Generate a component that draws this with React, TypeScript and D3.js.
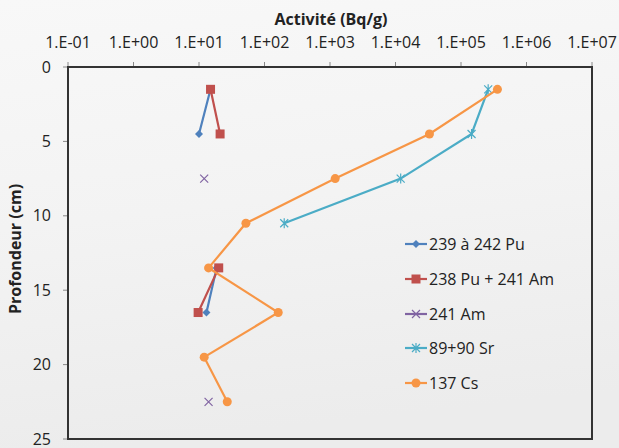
import React from "react";
import * as d3 from "d3";

const depths = [1.5, 4.5, 7.5, 10.5, 13.5, 16.5, 19.5, 22.5];
const pu239: (number | null)[] = [15, 10, null, null, 18.6, 13, null, null];
const pu238am: (number | null)[] = [15, 21, null, null, 20, 9.7, null, null];
const am241: (number | null)[] = [null, null, 12, null, null, null, null, 14];
const sr90: (number | null)[] = [2.6e5, 1.45e5, 1.2e4, 200, null, null, null, null];
const cs137: (number | null)[] = [3.6e5, 3.3e4, 1.2e3, 52, 14, 162, 12, 27];

const xTickLabels = ["1.E-01", "1.E+00", "1.E+01", "1.E+02", "1.E+03", "1.E+04", "1.E+05", "1.E+06", "1.E+07"];
const xTickValues = [1e-1, 1, 1e1, 1e2, 1e3, 1e4, 1e5, 1e6, 1e7];
const yTicks = [0, 5, 10, 15, 20, 25];

type Series = { name: string; values: (number | null)[]; color: string; marker: string };
const seriesList: Series[] = [
  { name: "239 à 242 Pu", values: pu239, color: "#4F81BD", marker: "diamond" },
  { name: "238 Pu + 241 Am", values: pu238am, color: "#C0504D", marker: "square" },
  { name: "241 Am", values: am241, color: "#8064A2", marker: "x" },
  { name: "89+90 Sr", values: sr90, color: "#4BACC6", marker: "star" },
  { name: "137 Cs", values: cs137, color: "#F79646", marker: "circle" },
];

const W = 619, H = 448;
const left = 68, right = 592, top = 67, bottom = 439;
const font = "'Open Sans', 'Liberation Sans', sans-serif";

function Marker({ type, x, y, color }: { type: string; x: number; y: number; color: string }) {
  if (type === "diamond") {
    const s = 4;
    return <path d={`M${x},${y - s}L${x + s},${y}L${x},${y + s}L${x - s},${y}Z`} fill={color} />;
  }
  if (type === "square") {
    const s = 4.5;
    return <rect x={x - s} y={y - s} width={2 * s} height={2 * s} fill={color} />;
  }
  if (type === "circle") {
    return <circle cx={x} cy={y} r={4.5} fill={color} />;
  }
  if (type === "x") {
    const s = 4;
    return <path d={`M${x - s},${y - s}L${x + s},${y + s}M${x - s},${y + s}L${x + s},${y - s}`} stroke={color} strokeWidth={1.2} fill="none" />;
  }
  const s = 4;
  return <path d={`M${x - s},${y - s}L${x + s},${y + s}M${x - s},${y + s}L${x + s},${y - s}M${x},${y - s - 1}L${x},${y + s + 1}`} stroke={color} strokeWidth={1.2} fill="none" />;
}

export default function App() {
  const x = d3.scaleLog().domain([1e-1, 1e7]).range([left, right]);
  const y = d3.scaleLinear().domain([0, 25]).range([top, bottom]);

  const line = d3
    .line<[number, number | null]>()
    .defined((d) => d[1] != null)
    .x((d) => x(d[1] as number))
    .y((d) => y(d[0]));

  const legendY = [244, 279, 314, 348, 383];

  return (
    <svg width={W} height={H} style={{ position: "absolute", left: 0, top: 0 }}>
      <defs>
        <linearGradient id="bg" x1="0" y1="0" x2="0.15" y2="1">
          <stop offset="0" stopColor="#f8f8f8" />
          <stop offset="0.5" stopColor="#f3f3f3" />
          <stop offset="1" stopColor="#ececec" />
        </linearGradient>
      </defs>
      <rect x={0} y={0} width={W} height={H} fill="url(#bg)" />
      <text x={331} y={25} textAnchor="middle" fontFamily={font} fontWeight="bold" fontSize={16} fill="#222">
        Activité (Bq/g)
      </text>
      {xTickValues.map((v, i) => (
        <g key={i}>
          <line x1={x(v)} x2={x(v)} y1={top - 5} y2={top} stroke="#888" strokeWidth={1} />
          <text x={x(v)} y={48} textAnchor="middle" fontFamily={font} fontSize={16} fill="#222">
            {xTickLabels[i]}
          </text>
        </g>
      ))}
      {yTicks.map((t) => (
        <g key={t}>
          <line x1={left - 5} x2={left} y1={y(t)} y2={y(t)} stroke="#888" strokeWidth={1} />
          <text x={51} y={y(t) + 5.5} textAnchor="end" fontFamily={font} fontSize={16} fill="#222">
            {t}
          </text>
        </g>
      ))}
      <text
        transform={`translate(21,249) rotate(-90)`}
        textAnchor="middle"
        fontFamily={font}
        fontWeight="bold"
        fontSize={16}
        fill="#222"
      >
        Profondeur (cm)
      </text>
      <rect x={left} y={top} width={right - left} height={bottom - top} fill="none" stroke="#333" strokeWidth={2} />
      {seriesList.map((s) => {
        const pts = depths.map((d, i) => [d, s.values[i]] as [number, number | null]);
        return (
          <g key={s.name}>
            <path d={line(pts) || ""} fill="none" stroke={s.color} strokeWidth={2.2} />
            {pts
              .filter((p) => p[1] != null)
              .map((p, i) => (
                <Marker key={i} type={s.marker} x={x(p[1] as number)} y={y(p[0])} color={s.color} />
              ))}
          </g>
        );
      })}
      {seriesList.map((s, i) => (
        <g key={s.name}>
          <line x1={405} x2={427} y1={legendY[i]} y2={legendY[i]} stroke={s.color} strokeWidth={2.2} />
          <Marker type={s.marker} x={416} y={legendY[i]} color={s.color} />
          <text x={429} y={legendY[i] + 5.5} fontFamily={font} fontSize={16} fill="#222">
            {s.name}
          </text>
        </g>
      ))}
    </svg>
  );
}
